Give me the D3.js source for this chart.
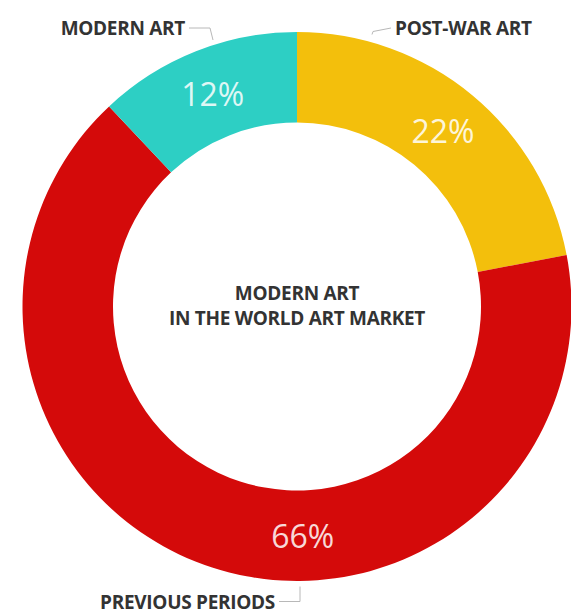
<!DOCTYPE html>
<html>
<head>
<meta charset="utf-8">
<script src="https://cdn.jsdelivr.net/npm/d3@7"></script>
<style>
  html, body { margin: 0; padding: 0; background: #fff; }
  svg { display: block; }
</style>
</head>
<body>
<svg id="chart" width="571" height="615"></svg>
<script>
// ---- data ----
const categories = ["POST-WAR ART", "PREVIOUS PERIODS", "MODERN ART"];
const values = [22, 66, 12];
const valueLabels = ["22%", "66%", "12%"];
const centerTitle = ["MODERN ART", "IN THE WORLD ART MARKET"];

// ---- layout ----
const cx = 297, cy = 306.5;
const outerR = 274.5, innerR = 184;
const colors = d3.scaleOrdinal()
  .domain(categories)
  .range(["#f3bf0c", "#d40a0a", "#2dcfc4"]);

const svg = d3.select("#chart");
const g = svg.append("g").attr("transform", `translate(${cx},${cy})`);

const pie = d3.pie().sort(null).value(d => d.value);
const arcs = pie(categories.map((c, i) => ({ cat: c, value: values[i], label: valueLabels[i] })));

const arc = d3.arc().innerRadius(innerR).outerRadius(outerR);

g.selectAll("path.slice")
  .data(arcs)
  .enter().append("path")
  .attr("class", "slice")
  .attr("d", arc)
  .attr("fill", d => colors(d.data.cat));

// percentage labels
const labelR = 229;
const maxVal = d3.max(values);
function labelAngle(d) {
  // largest slice label sits at the bottom of the ring
  if (d.data.value === maxVal) return Math.PI * 0.992;
  return (d.startAngle + d.endAngle) / 2;
}
g.selectAll("text.pct")
  .data(arcs)
  .enter().append("text")
  .attr("class", "pct")
  .attr("x", d => labelR * Math.sin(labelAngle(d)))
  .attr("y", d => -labelR * Math.cos(labelAngle(d)))
  .attr("text-anchor", "middle")
  .attr("dominant-baseline", "central")
  .attr("font-family", "'Open Sans', sans-serif")
  .attr("font-size", 32)
  .attr("fill", "#ffffff")
  .attr("fill-opacity", 0.85)
  .text(d => d.data.label);

// center title
g.selectAll("text.title")
  .data(centerTitle)
  .enter().append("text")
  .attr("class", "title")
  .attr("x", 0)
  .attr("y", (d, i) => -14 + i * 25)
  .attr("text-anchor", "middle")
  .attr("dominant-baseline", "central")
  .attr("font-family", "'Open Sans', sans-serif")
  .attr("font-weight", 700)
  .attr("font-size", 19)
  .attr("letter-spacing", -0.3)
  .attr("fill", "#333333")
  .text(d => d);

// category labels with leader lines (relative to centre)
const labelSpecs = {
  "MODERN ART":      { tx: -112, ty: -279, anchor: "end",   line: [[-108, -278.5], [-87, -278.5], [-84, -266.5]] },
  "POST-WAR ART":    { tx: 98,   ty: -279, anchor: "start", line: [[94, -278.5], [76, -275], [75, -272]] },
  "PREVIOUS PERIODS":{ tx: -22,  ty: 295, anchor: "end",  line: [[-18, 295], [3, 295], [3, 280]] }
};

const lbl = g.selectAll("g.catlabel")
  .data(arcs)
  .enter().append("g")
  .attr("class", "catlabel");

lbl.append("path")
  .attr("d", d => d3.line()(labelSpecs[d.data.cat].line))
  .attr("fill", "none")
  .attr("stroke", "#b8b8b8")
  .attr("stroke-width", 1);

lbl.append("text")
  .attr("x", d => labelSpecs[d.data.cat].tx)
  .attr("y", d => labelSpecs[d.data.cat].ty)
  .attr("text-anchor", d => labelSpecs[d.data.cat].anchor)
  .attr("dominant-baseline", "central")
  .attr("font-family", "'Open Sans', sans-serif")
  .attr("font-weight", 700)
  .attr("font-size", 19)
  .attr("letter-spacing", -0.3)
  .attr("fill", "#333333")
  .text(d => d.data.cat);
</script>
</body>
</html>
